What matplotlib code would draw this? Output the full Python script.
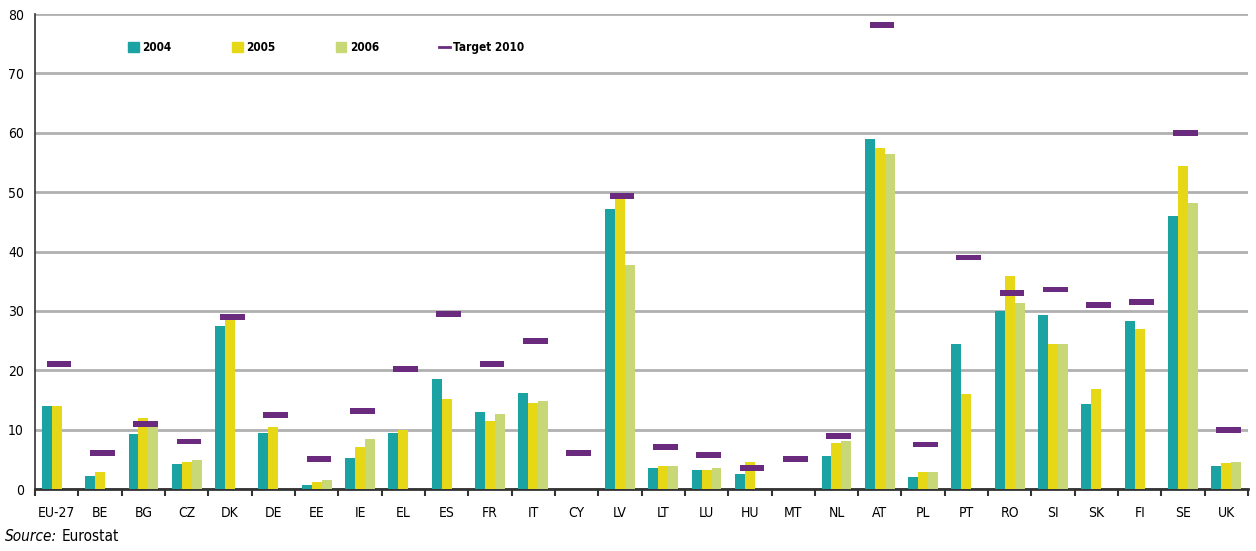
import numpy as np
import matplotlib.pyplot as plt
from matplotlib.lines import Line2D
from matplotlib.patches import Patch

# country codes
countries = ["EU-27", "BE", "BG", "CZ", "DK", "DE", "EE", "IE", "EL", "ES", "FR", "IT", "CY", "LV",
             "LT", "LU", "HU", "MT", "NL", "AT", "PL", "PT", "RO", "SI", "SK", "FI", "SE", "UK"]

# share values (nan = no data)
nan = np.nan
v2004 = [14.0, 2.2, 9.2, 4.2, 27.4, 9.5, 0.7, 5.3, 9.5, 18.5, 13.0, 16.1, nan, 47.1,
         3.5, 3.2, 2.5, nan, 5.6, 58.9, 2.1, 24.4, 30.0, 29.3, 14.4, 28.3, 46.0, 3.9]
v2005 = [14.0, 2.8, 12.0, 4.5, 29.5, 10.5, 1.1, 7.0, 10.0, 15.2, 11.5, 14.5, nan, 49.5,
         3.9, 3.2, 4.5, nan, 7.7, 57.5, 2.9, 16.0, 35.9, 24.5, 16.8, 27.0, 54.4, 4.3]
v2006 = [nan, nan, 11.0, 4.9, nan, nan, 1.5, 8.4, nan, nan, 12.6, 14.8, nan, 37.7,
         3.9, 3.5, nan, nan, 8.1, 56.5, 2.9, nan, 31.4, 24.5, nan, nan, 48.1, 4.6]
target = [21.0, 6.0, 11.0, 8.0, 29.0, 12.5, 5.1, 13.2, 20.2, 29.4, 21.0, 25.0, 6.0, 49.3,
          7.0, 5.7, 3.6, 5.0, 9.0, 78.1, 7.5, 39.0, 33.0, 33.6, 31.0, 31.5, 60.0, 10.0]

c2004 = "#1ba3a3"
c2005 = "#e6d817"
c2006 = "#c8d877"
ctarget = "#6a2a7e"

plt.rcParams['font.family'] = ['DejaVu Sans']
plt.rcParams['font.stretch'] = 'condensed'

fig = plt.figure(figsize=(12.56, 5.51), dpi=100)
ax = fig.add_axes([0.028, 0.1125, 0.9656, 0.862])

x = np.arange(len(countries))
w = 0.23
ax.bar(x - w, v2004, w, color=c2004, zorder=3)
ax.bar(x, v2005, w, color=c2005, zorder=3)
ax.bar(x + w, v2006, w, color=c2006, zorder=3)
ax.bar(x + 0.05, 1.0, 0.57, bottom=np.array(target) - 0.5, color=ctarget, zorder=4)

ax.set_xlim(-0.5, len(countries) - 0.5)
ax.set_ylim(0, 80)
ax.set_yticks(np.arange(0, 81, 10))
ax.yaxis.grid(True, color="#b0b0b0", linewidth=2, zorder=0)
ax.set_axisbelow(True)

ax.set_xticks(x)
ax.set_xticklabels(countries, fontsize=10)
ax.set_xticks(np.arange(-0.5, len(countries)), minor=True)
ax.tick_params(axis="x", which="major", length=0, pad=12)
ax.tick_params(axis="x", which="minor", length=5, width=1.5, direction="out", color="#333333")
ax.tick_params(axis="y", length=0, pad=8, labelsize=10)

for s in ["top", "right"]:
    ax.spines[s].set_visible(False)
ax.spines["left"].set_linewidth(1.2)
ax.spines["left"].set_color("#333333")
ax.spines["bottom"].set_linewidth(2)
ax.spines["bottom"].set_color("#333333")

handles = [Patch(color=c2004), Patch(color=c2005), Patch(color=c2006),
           Line2D([0], [0], color=ctarget, linewidth=2)]
labels = ["2004", "2005", "2006", "Target 2010"]
leg = ax.legend(handles, labels, ncol=4, loc="upper left", bbox_to_anchor=(0.068, 0.965),
                frameon=False, handlelength=0.9, handleheight=0.9, handletextpad=0.3,
                columnspacing=5.1, prop={"size": 8.5, "weight": "bold"})

src = fig.text(0.004, 0.018, "Source:", fontsize=11, style="italic")
ax.annotate("Eurostat", xy=(1, 0), xycoords=src, xytext=(3, 0), textcoords="offset points",
            fontsize=11, va="bottom", ha="left", annotation_clip=False)

plt.savefig("out.png")
